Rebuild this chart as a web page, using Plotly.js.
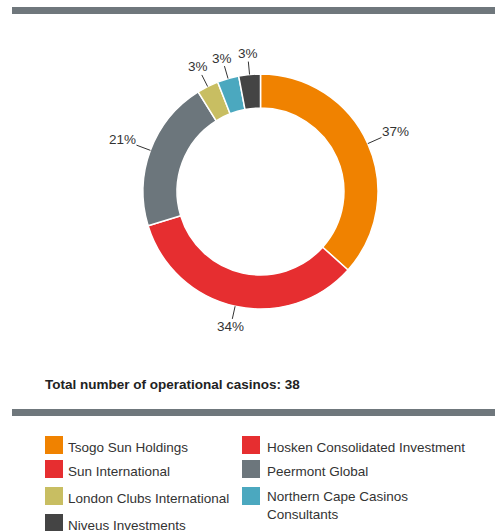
<!DOCTYPE html>
<html>
<head>
<meta charset="utf-8">
<script src="https://cdn.plot.ly/plotly-3.0.1.min.js"></script>
<style>html,body{margin:0;padding:0;background:#fff;}#chart{width:495px;height:531px;}</style>
</head>
<body>
<div id="chart"></div>
<script>
// ---- data ----
const sliceLabels = ["Tsogo Sun Holdings", "Sun International", "Peermont Global", "London Clubs International", "Northern Cape Casinos Consultants", "Niveus Investments"];
const sliceValues = [37, 34, 21, 3, 3, 3];
const sliceColors = ["#F08200", "#E62E30", "#6C767C", "#C8BE62", "#4BA8BF", "#444444"];
const legendLabels = ["Tsogo Sun Holdings", "Hosken Consolidated Investment", "Sun International", "Peermont Global", "London Clubs International", "Northern Cape Casinos<br>Consultants", "Niveus Investments"];
const legendColors = ["#F08200", "#E62E30", "#E62E30", "#6C767C", "#C8BE62", "#4BA8BF", "#444444"];
const totalText = "Total number of operational casinos: 38";

// ---- layout constants ----
const W = 495, H = 531;
const cx = 260.5, cy = 191.5, R = 117.5;
const FONT = "Liberation Sans, Arial, Helvetica, sans-serif";
const TXT = "#333333";
const FS = 13.5;

const px = x => x / W;
const py = y => 1 - y / H;

const trace = {
  type: "pie",
  labels: sliceLabels,
  values: sliceValues,
  marker: { colors: sliceColors, line: { color: "#ffffff", width: 1.5 } },
  hole: 0.71,
  sort: false,
  direction: "clockwise",
  rotation: 0,
  textinfo: "none",
  hoverinfo: "label+percent",
  showlegend: false,
  domain: { x: [px(cx - R), px(cx + R)], y: [py(cy + R), py(cy - R)] }
};

const annotations = [];
const shapes = [];

// slice labels with leader lines, computed from the data
const total = sliceValues.reduce((a, b) => a + b, 0);
let cum = 0;
sliceValues.forEach((v, i) => {
  const a = (cum + v / 2) / total * 2 * Math.PI;
  cum += v;
  const sx = Math.sin(a), sy = -Math.cos(a);
  const ex = cx + R * sx, ey = cy + R * sy;
  const pct = Math.round(v / total * 100) + "%";
  const hw = pct.length * 4.6 + 2, hh = 8;
  const ext = Math.min(Math.abs(sx) > 1e-6 ? hw / Math.abs(sx) : 1e9, Math.abs(sy) > 1e-6 ? hh / Math.abs(sy) : 1e9);
  const L = 13 + ext;
  annotations.push({
    xref: "paper", yref: "paper", x: px(ex), y: py(ey),
    ax: L * sx, ay: L * sy, axref: "pixel", ayref: "pixel",
    text: pct, showarrow: true, arrowhead: 0, arrowwidth: 1, arrowcolor: "#333333",
    standoff: 0, startstandoff: 0, borderpad: 0,
    font: { family: FONT, size: FS, color: TXT }
  });
});

// bars
shapes.push({ type: "rect", xref: "paper", yref: "paper", x0: px(12), x1: 1, y0: py(14), y1: py(7), fillcolor: "#6F777C", line: { width: 0 } });
shapes.push({ type: "rect", xref: "paper", yref: "paper", x0: px(12), x1: 1, y0: py(416), y1: py(409), fillcolor: "#6F777C", line: { width: 0 } });

// total text
annotations.push({
  xref: "paper", yref: "paper", x: px(43), y: py(384), xanchor: "left", yanchor: "middle",
  text: "<b>" + totalText + "</b>", showarrow: false,
  font: { family: FONT, size: FS, color: "#222222" }
});

// legend
const colX = [45, 242];
const rowSq = [436, 460, 487, 514];
legendLabels.forEach((lab, i) => {
  const c = i % 2, r = Math.floor(i / 2);
  const x0 = colX[c], y0 = rowSq[r];
  shapes.push({ type: "rect", xref: "paper", yref: "paper", x0: px(x0), x1: px(x0 + 18), y0: py(y0 + 18), y1: py(y0), fillcolor: legendColors[i], line: { width: 0 } });
  const twoLine = lab.indexOf("<br>") >= 0;
  annotations.push({
    xref: "paper", yref: "paper", x: px(x0 + 21 + c * 2), y: py(twoLine ? y0 + 18 : y0 + 11.5),
    xanchor: "left", yanchor: "middle", align: "left",
    text: lab, showarrow: false,
    font: { family: FONT, size: FS, color: TXT }
  });
});

const layout = {
  width: W, height: H,
  margin: { l: 0, r: 0, t: 0, b: 0 },
  paper_bgcolor: "#ffffff", plot_bgcolor: "#ffffff",
  showlegend: false,
  annotations: annotations,
  shapes: shapes
};

Plotly.newPlot("chart", [trace], layout, { displayModeBar: false, staticPlot: true });
</script>
</body>
</html>
